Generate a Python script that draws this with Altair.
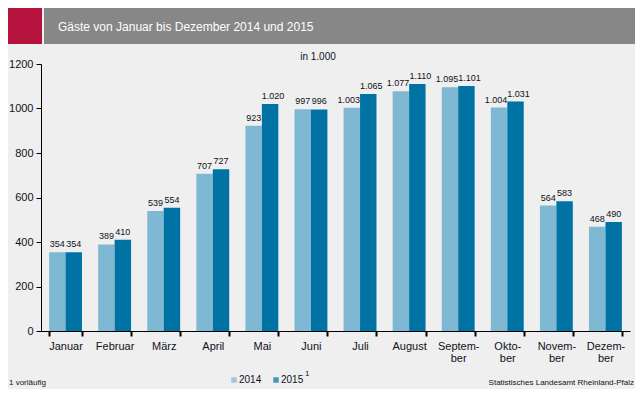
import altair as alt
import pandas as pd

months = ["Januar", "Februar", "März", "April", "Mai", "Juni", "Juli", "August",
          "Septem-|ber", "Okto-|ber", "Novem-|ber", "Dezem-|ber"]
v2014 = [354, 389, 539, 707, 923, 997, 1003, 1077, 1095, 1004, 564, 468]
v2015 = [354, 410, 554, 727, 1020, 996, 1065, 1110, 1101, 1031, 583, 490]
series = ["2014", "2015"]
colors = ["#7fb8d3", "#0073a4"]
y_ticks = [0, 200, 400, 600, 800, 1000, 1200]

title = "Gäste von Januar bis Dezember 2014 und 2015"
unit = "in 1.000"
footnote = "1 vorläufig"
source = "Statistisches Landesamt Rheinland-Pfalz"

def de(v):
    return f"{v:,}".replace(",", ".")

rows = []
for m, a, b in zip(months, v2014, v2015):
    rows.append({"Monat": m, "Jahr": "2014", "Wert": a, "Label": de(a)})
    rows.append({"Monat": m, "Jahr": "2015", "Wert": b, "Label": de(b)})
df = pd.DataFrame(rows)

FONT = "Liberation Sans"
W, H = 589, 267
TXT = "#111122"

x = alt.X("Monat:N", sort=months,
          scale=alt.Scale(paddingInner=0.33, paddingOuter=0.165),
          axis=alt.Axis(title=None, labelAngle=0, labelFont=FONT, labelFontSize=11,
                        labelColor=TXT,
                        labelExpr="isValid(datum.value) ? split(datum.value, '|') : ''",
                        labelPadding=4, labelLineHeight=12,
                        tickBand="extent", tickOffset=8, tickColor="black", tickSize=5,
                        tickWidth=2, domainColor="black", domainWidth=1, grid=False))
y = alt.Y("Wert:Q", scale=alt.Scale(domain=[0, 1200]),
          axis=alt.Axis(title=None, values=y_ticks, format="d", labelFont=FONT,
                        labelFontSize=11, labelColor=TXT, tickColor="black", tickSize=5,
                        domainColor="black", grid=False, labelPadding=3))
color = alt.Color("Jahr:N", scale=alt.Scale(domain=series, range=colors), legend=None)

base = alt.Chart(df)
bars = base.mark_bar().encode(x=x, y=y, xOffset=alt.XOffset("Jahr:N", sort=series),
                              color=color)

def label_layer(flt, dx):
    return base.transform_filter(flt).mark_text(
        baseline="bottom", dy=-3, dx=dx, font=FONT, fontSize=9, color=TXT).encode(
        x=alt.X("Monat:N", sort=months), y="Wert:Q",
        xOffset=alt.XOffset("Jahr:N", sort=series,
                            scale=alt.Scale(domain=series)),
        text="Label:N")

lab_small = label_layer("datum.Wert < 1000", 0)
lab_big14 = label_layer("datum.Wert >= 1000 && datum.Jahr == '2014'", -3)
lab_big15 = label_layer("datum.Wert >= 1000 && datum.Jahr == '2015'", 3)

# header
one = pd.DataFrame({"a": [0]})
hdr_red = alt.Chart(one).mark_rect(color="#b5123e").encode(
    x=alt.value(-33), x2=alt.value(1), y=alt.value(-56), y2=alt.value(-20))
hdr_gray = alt.Chart(one).mark_rect(color="#878787").encode(
    x=alt.value(3), x2=alt.value(594), y=alt.value(-56), y2=alt.value(-20))
hdr_text = alt.Chart(one).mark_text(align="left", baseline="middle", font=FONT,
                                    fontSize=12, color="white").encode(
    x=alt.value(17), y=alt.value(-37), text=alt.value(title))
unit_text = alt.Chart(one).mark_text(align="center", baseline="middle", font=FONT,
                                     fontSize=10, color=TXT).encode(
    x=alt.value(277), y=alt.value(-7), text=alt.value(unit))

# legend
sq1 = alt.Chart(one).mark_square(size=30, color=colors[0]).encode(
    x=alt.value(193), y=alt.value(49 + H))
t1 = alt.Chart(one).mark_text(align="left", baseline="middle", font=FONT, fontSize=10,
                              color=TXT).encode(
    x=alt.value(198), y=alt.value(49 + H), text=alt.value("2014"))
sq2 = alt.Chart(one).mark_square(size=30, color=colors[1]).encode(
    x=alt.value(235), y=alt.value(49 + H))
t2 = alt.Chart(one).mark_text(align="left", baseline="middle", font=FONT, fontSize=10,
                              color=TXT).encode(
    x=alt.value(240), y=alt.value(49 + H), text=alt.value("2015"))
sup = alt.Chart(one).mark_text(align="left", baseline="middle", font=FONT, fontSize=8,
                               color=TXT).encode(
    x=alt.value(264), y=alt.value(43 + H), text=alt.value("1"))
foot = alt.Chart(one).mark_text(align="left", baseline="middle", font=FONT, fontSize=8,
                                color=TXT).encode(
    x=alt.value(-32), y=alt.value(52 + H), text=alt.value(footnote))
src = alt.Chart(one).mark_text(align="right", baseline="middle", font=FONT, fontSize=8,
                               color=TXT).encode(
    x=alt.value(593), y=alt.value(52 + H), text=alt.value(source))

chart = alt.layer(hdr_red, hdr_gray, hdr_text, unit_text, bars,
                  lab_small, lab_big14, lab_big15,
                  sq1, t1, sq2, t2, sup, foot, src).properties(
    width=W, height=H, background="#eeefee",
    padding={"left": 33, "top": 56, "right": 5, "bottom": 58},
    autosize=alt.AutoSizeParams(type="none"),
).configure_view(stroke=None)

chart.save("out.html", embed_options={"renderer": "svg", "actions": False})
